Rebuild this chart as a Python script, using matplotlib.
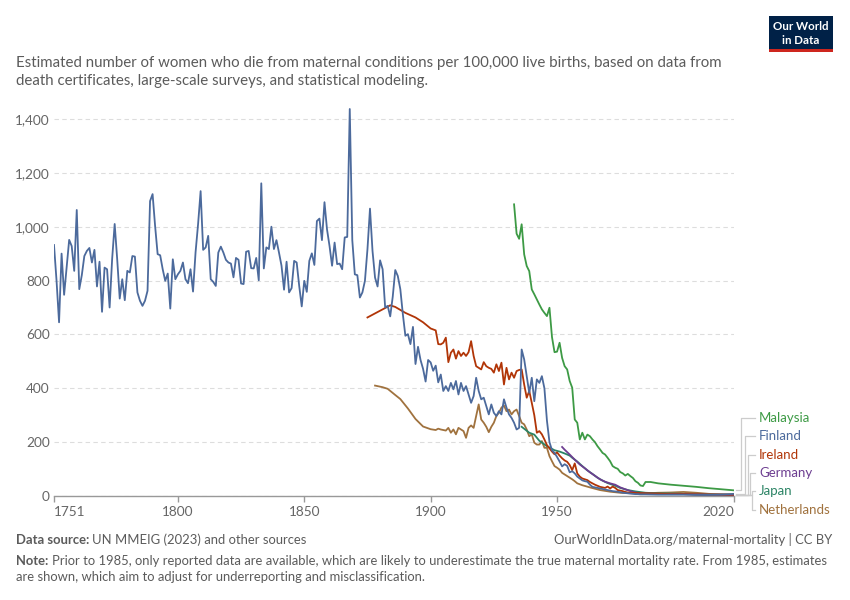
import matplotlib
matplotlib.use("Agg")
import matplotlib.pyplot as plt
from matplotlib.lines import Line2D
from matplotlib.patches import Rectangle
from matplotlib.ticker import FuncFormatter

plt.rcParams["font.family"] = ["Lato", "DejaVu Sans"]

# --- data ---
fi_years = list(range(1751, 1985)) + [1985, 1990, 1995, 2000, 2005, 2010, 2015, 2020]
fi_values = [
    932, 800, 645, 900, 747, 850, 951, 928, 836, 1062,
    768, 820, 891, 910, 921, 867, 914, 778, 870, 684,
    848, 842, 700, 880, 1010, 879, 733, 805, 727, 836,
    830, 891, 889, 756, 725, 706, 725, 762, 1095, 1121,
    1002, 898, 894, 842, 799, 826, 696, 879, 805, 823,
    836, 867, 805, 790, 842, 759, 905, 1010, 1132, 914,
    923, 966, 805, 795, 780, 904, 926, 904, 877, 867,
    863, 812, 884, 877, 789, 787, 907, 910, 846, 845,
    884, 801, 1161, 845, 923, 917, 1000, 917, 950, 904,
    855, 766, 870, 756, 772, 873, 867, 780, 704, 799,
    758, 873, 901, 858, 1021, 1030, 950, 1091, 990, 928,
    855, 941, 861, 863, 842, 960, 962, 1437, 950, 823,
    820, 737, 756, 799, 916, 1067, 910, 811, 778, 875,
    842, 700, 706, 667, 740, 839, 817, 768, 675, 595,
    601, 564, 628, 490, 554, 505, 472, 425, 505, 496,
    465, 484, 422, 451, 390, 408, 390, 420, 396, 427,
    377, 420, 390, 408, 377, 346, 371, 439, 390, 359,
    365, 334, 303, 340, 309, 297, 315, 303, 359, 328,
    303, 290, 272, 247, 253, 544, 507, 445, 383, 439,
    352, 433, 420, 445, 400, 280, 200, 170, 160, 145,
    128, 110, 118, 112, 88, 92, 84, 72, 65, 58,
    55, 53, 42, 34, 32, 30, 28, 26, 24, 22,
    20, 18, 17, 16, 14, 12, 11, 10, 9, 8,
    7, 7, 6, 6,
    6, 5, 5, 5, 4, 4, 5, 8,
]

ie_years = [1875, 1884, 1886, 1890, 1894, 1897, 1900, 1902] + list(range(1903, 1980)) + [
    1985, 1990, 1995, 2000, 2005, 2010, 2015, 2020]
ie_values = [
    663, 708, 702, 680, 663, 645, 622, 615,
    564, 563, 569, 588, 497, 532, 544, 510, 538, 520,
    532, 520, 534, 575, 520, 482, 476, 470, 497, 482,
    476, 472, 458, 489, 464, 495, 414, 476, 433, 458,
    439, 464, 468, 470, 414, 365, 390, 346, 300, 235,
    241, 229, 210, 189, 177, 165, 155, 162, 150, 140,
    132, 127, 115, 96, 121, 84, 72, 65, 62, 59,
    52, 47, 42, 38, 34, 32, 30, 35, 28, 35,
    30, 22, 20, 18, 15, 13, 12,
    10, 9, 7, 7, 6, 5, 5, 5,
]

nl_years = [1878, 1881, 1883, 1886, 1888, 1891, 1894, 1897, 1900, 1902] + list(range(1903, 1959)) + [
    1960, 1963, 1967, 1971, 1975, 1980, 1985, 1990, 1995, 2000, 2005, 2010, 2015, 2020]
nl_values = [
    410, 404, 398, 375, 360, 325, 286, 258, 248, 245,
    250, 247, 245, 243, 253, 235, 247, 229, 253, 247,
    241, 216, 253, 262, 253, 297, 340, 284, 272, 257,
    237, 257, 272, 297, 309, 328, 336, 315, 321, 303,
    315, 321, 297, 272, 266, 247, 222, 229, 198, 191,
    191, 204, 179, 179, 148, 129, 111, 105, 98, 86,
    80, 74, 68, 62, 55, 47,
    40, 32, 22, 16, 12, 10, 10, 12, 13, 15, 12, 8, 6, 5,
]

de_years = [1952, 1953, 1955, 1957, 1959, 1961, 1963, 1965, 1967, 1969, 1971, 1973,
            1975, 1977, 1980, 1983, 1985, 1990, 1995, 2000, 2005, 2010, 2015, 2020]
de_values = [182, 172, 154, 135, 117, 103, 88, 75, 62, 53, 47, 42,
             32, 25, 15, 9, 9, 8, 7, 7, 6, 5, 5, 4]

jp_years = [1936, 1939, 1941, 1943, 1946, 1949, 1951, 1953, 1955, 1956, 1958, 1960,
            1962, 1964, 1966, 1968, 1970, 1973, 1975, 1978, 1981, 1985, 1990, 1995,
            2000, 2005, 2010, 2015, 2020]
jp_values = [257, 235, 228, 205, 185, 170, 165, 158, 150, 142, 128, 111,
             95, 82, 68, 57, 48, 38, 30, 22, 17, 12, 10, 9,
             8, 6, 5, 5, 4]

my_years = list(range(1933, 1985)) + [1985, 1987, 1990, 1995, 2000, 2005, 2010, 2015, 2020]
my_values = [
    1083, 974, 955, 1009, 897, 854, 835, 767, 749, 730,
    711, 693, 680, 668, 699, 590, 534, 536, 569, 513,
    482, 470, 427, 402, 284, 272, 210, 235, 210, 228,
    222, 210, 200, 185, 173, 160, 154, 142, 129, 111,
    105, 101, 89, 84, 76, 82, 74, 67, 55, 49,
    39, 37,
    52, 52, 47, 42, 38, 34, 29, 25, 21,
]

x_ticks = [1751, 1800, 1850, 1900, 1950, 2020]
y_ticks = [0, 200, 400, 600, 800, 1000, 1200, 1400]

# name, years, values, colour, label y (px), leader x (px)
series = [
    ("Malaysia", my_years, my_values, "#3D9A45", 418, 741),
    ("Finland", fi_years, fi_values, "#4C6A9C", 436, 745),
    ("Ireland", ie_years, ie_values, "#B13507", 455, 748),
    ("Germany", de_years, de_values, "#6D3E91", 473, 750),
    ("Japan", jp_years, jp_values, "#2C8465", 491, 752),
    ("Netherlands", nl_years, nl_values, "#A0723E", 510, 752),
]

W, H = 850, 600
fig = plt.figure(figsize=(W / 100, H / 100), dpi=100)
renderer = fig.canvas.get_renderer()


def px(x, y):
    return x / W, 1 - y / H


def text_run(x, y, parts, size, color):
    # draw (text, weight) pieces one after another on a baseline
    for s, weight in parts:
        t = fig.text(*px(x, y), s, fontsize=size, color=color, weight=weight, va="baseline")
        x += t.get_window_extent(renderer).width


ax = fig.add_axes([54 / W, 1 - 496 / H, 680 / W, (496 - 105.5) / H])
ax.set_xlim(1751, 2020)
ax.set_ylim(0, 1450)

for name, years, vals, color, _, _ in reversed(series):
    ax.plot(years, vals, color=color, linewidth=1.3, solid_joinstyle="round", zorder=3)

for side in ["top", "right", "left"]:
    ax.spines[side].set_visible(False)
ax.spines["bottom"].set_color("#999999")
ax.spines["bottom"].set_linewidth(1)

ax.set_yticks(y_ticks)
ax.yaxis.set_major_formatter(FuncFormatter(lambda v, _: f"{int(v):,}"))
ax.yaxis.grid(True, color="#dddddd", linestyle=(0, (4, 3)), linewidth=0.8)
ax.set_axisbelow(True)
ax.tick_params(axis="y", length=0, pad=3, labelcolor="#666666", labelsize=9.8)

ax.set_xticks(x_ticks)
ax.set_xticklabels([str(t) for t in x_ticks])
ax.tick_params(axis="x", length=4, width=1, color="#999999", pad=3,
               labelcolor="#666666", labelsize=9.8)
xl = ax.get_xticklabels()
xl[0].set_ha("left")
xl[-1].set_ha("right")

# --- line labels with leader lines ---
for name, years, vals, color, ly, xv in series:
    _, yd = ax.transData.transform((years[-1], vals[-1]))
    y_end = H - yd
    xs = [736, xv, xv, 755]
    ys = [y_end, y_end, ly, ly]
    pts = [px(a, b) for a, b in zip(xs, ys)]
    fig.add_artist(Line2D([p[0] for p in pts], [p[1] for p in pts],
                          color="#cccccc", linewidth=0.9, transform=fig.transFigure))
    fig.text(*px(759, ly), name, color=color, fontsize=9.5, va="center", ha="left")

# --- header ---
sub_color = "#5b5b5b"
fig.text(*px(16, 67), "Estimated number of women who die from maternal conditions per 100,000 live births, based on data from",
         fontsize=10.8, color=sub_color, va="baseline")
fig.text(*px(16, 85), "death certificates, large-scale surveys, and statistical modeling.",
         fontsize=10.8, color=sub_color, va="baseline")

fig.add_artist(Rectangle(px(769, 52), 64 / W, 36 / H, transform=fig.transFigure,
                         facecolor="#002147", edgecolor="none"))
fig.add_artist(Rectangle(px(769, 52), 64 / W, 3 / H, transform=fig.transFigure,
                         facecolor="#ce261e", edgecolor="none"))
fig.text(*px(801, 27), "Our World", color="white", fontsize=8.3, ha="center", va="center", weight="bold")
fig.text(*px(801, 40), "in Data", color="white", fontsize=8.3, ha="center", va="center", weight="bold")

# --- footer ---
fs = 9.35
text_run(16, 544, [("Data source: ", "bold"), ("UN MMEIG (2023) and other sources", "normal")], fs, sub_color)
fig.text(*px(832, 544), "OurWorldInData.org/maternal-mortality | CC BY", fontsize=fs,
         color=sub_color, va="baseline", ha="right")
text_run(16, 565, [("Note: ", "bold"),
                   ("Prior to 1985, only reported data are available, which are likely to underestimate "
                    "the true maternal mortality rate. From 1985, estimates", "normal")], fs, sub_color)
fig.text(*px(16, 581), "are shown, which aim to adjust for underreporting and misclassification.",
         fontsize=fs, color=sub_color, va="baseline")

fig.savefig("out.png", dpi=100, facecolor="white")
